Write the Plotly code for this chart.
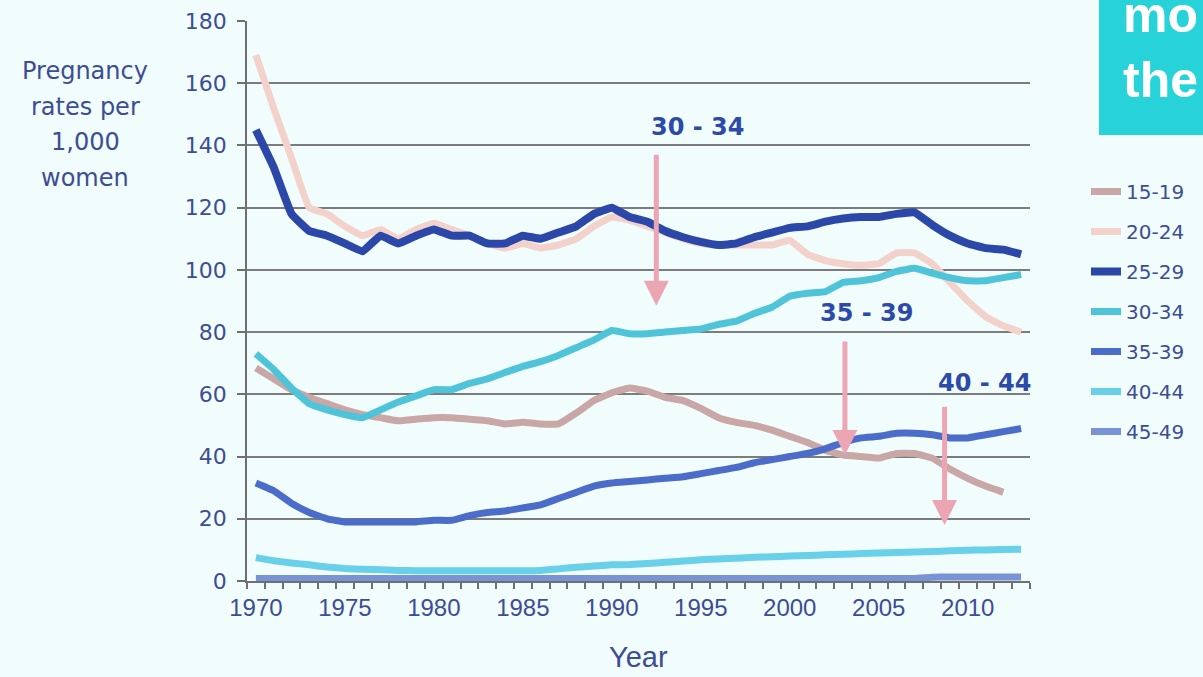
import plotly.graph_objects as go

years = list(range(1970, 2014))

age_groups = ["15-19", "20-24", "25-29", "30-34", "35-39", "40-44", "45-49"]

rate_15_19 = [68.5, 65, 61.5, 59, 57, 55, 53.5, 52.5, 51.5, 52, 52.5, 52.5, 52, 51.5, 50.5,
              51, 50.5, 50.5, 54, 58, 60.5, 62, 61, 59, 58, 55.5, 52.5, 51, 50, 48.5,
              46.5, 44.5, 42, 40.5, 40, 39.5, 41, 41, 39.5, 36, 33, 30.5, 28.5, None]
rate_20_24 = [169, 152, 136, 120, 118, 114, 111, 113, 110, 113, 115, 113, 111, 108.5, 107,
              108.5, 107, 108, 110, 114, 117, 116, 114, 112, 110, 108.5, 108, 108, 108, 108,
              109.5, 105, 103, 102, 101.5, 102, 105.5, 105.5, 102, 96, 90, 85, 82, 80]
rate_25_29 = [145, 133, 118, 112.5, 111, 108.5, 106, 111, 108.5, 111, 113, 111, 111, 108.5, 108.5,
              111, 110, 112, 114, 118, 120, 117, 115.5, 112.5, 110.5, 109, 108, 108.5, 110.5, 112,
              113.5, 114, 115.5, 116.5, 117, 117, 118, 118.5, 114.5, 111, 108.5, 107, 106.5, 105]
rate_30_34 = [73, 68, 62, 57, 55, 53.5, 52.5, 55, 57.5, 59.5, 61.5, 61.5, 63.5, 65, 67,
              69, 70.5, 72.5, 75, 77.5, 80.5, 79.5, 79.5, 80, 80.5, 81, 82.5, 83.5, 86, 88,
              91.5, 92.5, 93, 96, 96.5, 97.5, 99.5, 100.5, 99, 97.5, 96.5, 96.5, 97.5, 98.5]
rate_35_39 = [31.5, 29, 25, 22, 20, 19, 19, 19, 19, 19, 19.5, 19.5, 21, 22, 22.5,
              23.5, 24.5, 26.5, 28.5, 30.5, 31.5, 32, 32.5, 33, 33.5, 34.5, 35.5, 36.5, 38, 39,
              40, 41, 42.5, 44.5, 46, 46.5, 47.5, 47.5, 47, 46, 46, 47, 48, 49]
rate_40_44 = [7.5, 6.5, 5.8, 5.2, 4.5, 4, 3.8, 3.6, 3.4, 3.3, 3.3, 3.3, 3.3, 3.3, 3.3,
              3.3, 3.4, 3.9, 4.4, 4.8, 5.2, 5.3, 5.6, 6, 6.4, 6.8, 7.1, 7.3, 7.6, 7.8,
              8, 8.2, 8.4, 8.6, 8.8, 9, 9.2, 9.3, 9.5, 9.7, 9.9, 10, 10.1, 10.2]
rate_45_49 = [0.8] * 38 + [1.2, 1.3, 1.3, 1.3, 1.3, 1.3]

series = [rate_15_19, rate_20_24, rate_25_29, rate_30_34, rate_35_39, rate_40_44, rate_45_49]
colors = ["#c9a7a6", "#f3d2cc", "#2b47a8", "#4fc4d8", "#4b6cc9", "#68d0e8", "#7a93d4"]
widths = [7, 7, 8, 7, 7, 7, 7]

tick_years = [1970, 1975, 1980, 1985, 1990, 1995, 2000, 2005, 2010]

callouts = ["30 - 34", "35 - 39", "40 - 44"]
callout_pos = [(1994.8, 146), (2004.3, 86), (2010.95, 63.5)]
arrow_pos = [(1992.5, 137.5, 88.5), (2003.1, 77.5, 40.5), (2008.7, 56.5, 18)]

ytitle_lines = ["Pregnancy", "rates per", "1,000", "women"]

BG = "#f1fcfd"
TXT = "#3d4d94"

fig = go.Figure()
for name, vals, col, w in zip(age_groups, series, colors, widths):
    fig.add_trace(go.Scatter(
        x=years, y=vals, name=name, mode="lines", legendgroup=name,
        line=dict(color=col, width=w, shape="spline", smoothing=0.3),
        connectgaps=False,
    ))

annotations = []
for txt, (ax_, ay_) in zip(callouts, callout_pos):
    annotations.append(dict(x=ax_, y=ay_, xref="x", yref="y", text=txt, showarrow=False,
                            font=dict(family="DejaVu Sans", size=24, color="#2d4aa8", weight="bold")))
for (xx, y0, y1) in arrow_pos:
    annotations.append(dict(x=xx, y=y1, ax=xx, ay=y0, xref="x", yref="y", axref="x", ayref="y",
                            text="", showarrow=True, arrowhead=2, arrowsize=1.0, arrowwidth=5,
                            arrowcolor="#eca6b3", standoff=0))
for i, line in enumerate(ytitle_lines):
    ypx = 71 + i * 35.5
    annotations.append(dict(x=(85 - 247) / 783, y=1 - (ypx - 21) / 560, xref="paper", yref="paper",
                            text=line, showarrow=False, xanchor="center", yanchor="middle",
                            font=dict(family="DejaVu Sans", size=24, color=TXT)))
annotations.append(dict(x=(1122 - 247) / 783, y=1 - (-14 - 21) / 560, xref="paper", yref="paper",
                        text="mo<br>the", showarrow=False, xanchor="left", yanchor="top", align="left",
                        borderpad=0,
                        font=dict(family="Liberation Sans", size=50, color="white", weight="bold")))
annotations.append(dict(x=0.5, y=1 - (657 - 21) / 560, xref="paper", yref="paper",
                        text="Year", showarrow=False, xanchor="center", yanchor="middle", borderpad=0,
                        font=dict(family="Liberation Sans Narrow, Arial Narrow, sans-serif", size=29, color=TXT)))

fig.update_layout(
    width=1203, height=677,
    margin=dict(l=247, r=173, t=21, b=96),
    paper_bgcolor=BG, plot_bgcolor=BG,
    showlegend=True,
    legend=dict(x=(1086 - 247) / 783, y=1 - (172 - 21) / 560, xanchor="left", yanchor="top",
                font=dict(family="DejaVu Sans", size=20, color=TXT),
                tracegroupgap=11, bgcolor="rgba(0,0,0,0)", borderwidth=0),
    annotations=annotations,
    shapes=[dict(type="rect", xref="paper", yref="paper",
                 x0=(1099 - 247) / 783, x1=(1210 - 247) / 783,
                 y0=1 - (135 - 21) / 560, y1=1 - (-5 - 21) / 560,
                 fillcolor="#27d3d8", line=dict(width=0), layer="below")],
    xaxis=dict(range=[1969.5, 2013.5], tickvals=tick_years, ticks="", automargin=False,
               showgrid=False, zeroline=False, ticklabelstandoff=4,
               showline=True, linecolor="#6f6f6f", linewidth=2,
               tickfont=dict(family="Liberation Sans Narrow, Arial Narrow, sans-serif", size=24, color=TXT),
               minor=dict(tick0=1969.5, dtick=1, ticks="outside", ticklen=6, tickcolor="#6f6f6f",
                          tickwidth=1.5, showgrid=False)),
    yaxis=dict(range=[0, 180], dtick=20, ticks="outside", ticklen=8, tickcolor="#6f6f6f", tickwidth=1.5,
               automargin=False,
               showgrid=True, gridcolor="#7c7c7c", gridwidth=1.5, zeroline=False,
               showline=True, linecolor="#6f6f6f", linewidth=1.5, ticklabelstandoff=6,
               tickfont=dict(family="DejaVu Sans", size=22, color=TXT)),
)

fig.write_html("out.html")
